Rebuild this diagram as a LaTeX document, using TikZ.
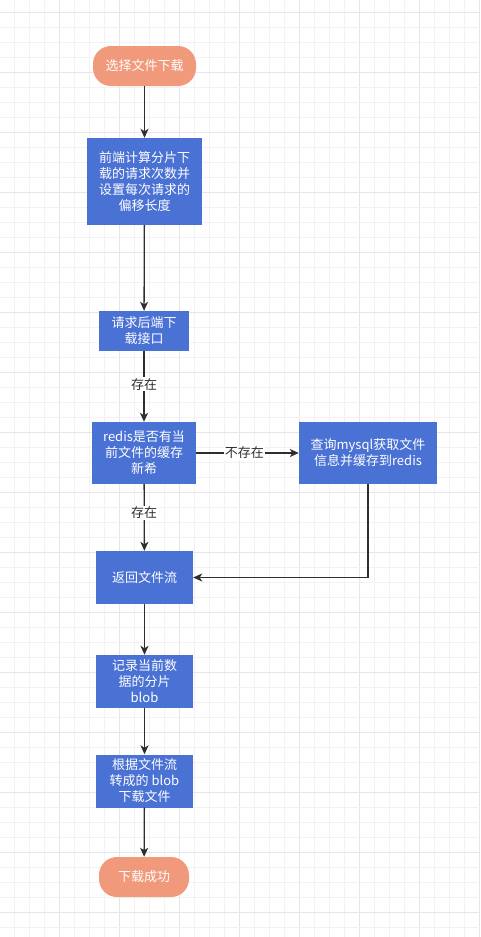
\documentclass[tikz,border=0pt]{standalone}
\usepackage{fontspec}
\setmainfont{Noto Sans CJK SC}
\usetikzlibrary{arrows.meta,shapes.misc}
\definecolor{boxblue}{HTML}{4A71D4}
\definecolor{salmon}{HTML}{F19A7B}
\definecolor{gridminor}{HTML}{F2F2F2}
\definecolor{gridmajor}{HTML}{E6E6E6}
\definecolor{linecol}{HTML}{2E2E2E}
\tikzset{
  x=1pt,y=-1pt,
  base/.style={text=white,font=\fontsize{13}{16}\selectfont,align=center,inner sep=0pt},
  procbox/.style={base,fill=boxblue,draw=none},
  termbox/.style={base,fill=salmon,draw=none,rounded corners=18pt},
  conn/.style={draw=linecol,line width=1.3pt,-{Stealth[length=9pt,width=8pt,inset=2.5pt]}},
  elabel/.style={fill=white,text=linecol,font=\fontsize{13}{14}\selectfont,inner sep=1pt}
}
\begin{document}
\begin{tikzpicture}
\useasboundingbox (0,0) rectangle (480,937);
\fill[white] (0,0) rectangle (480,937);
% grid
\foreach \i in {0,...,31}{
  \pgfmathsetmacro{\xx}{14+15*\i}
  \pgfmathtruncatemacro{\m}{mod(\i+1,4)}
  \ifnum\m=0 \draw[gridmajor,line width=1pt] (\xx,0) -- (\xx,937);
  \else \draw[gridminor,line width=1pt] (\xx,0) -- (\xx,937); \fi
}
\foreach \j in {0,...,61}{
  \pgfmathsetmacro{\yy}{12+15*\j}
  \pgfmathtruncatemacro{\m}{mod(\j+0,4)}
  \ifnum\m=0 \draw[gridmajor,line width=1pt] (0,\yy) -- (480,\yy);
  \else \draw[gridminor,line width=1pt] (0,\yy) -- (480,\yy); \fi
}
% nodes
\node[termbox,minimum width=103pt,minimum height=40pt] (start) at (144.5,66) {选择文件下载};
\node[procbox,minimum width=115pt,minimum height=87pt] (calc) at (144.5,181.5) {前端计算分片下\\载的请求次数并\\设置每次请求的\\偏移长度};
\node[procbox,minimum width=90pt,minimum height=40pt] (req) at (144,331) {请求后端下\\载接口};
\node[procbox,minimum width=104pt,minimum height=62pt] (redis) at (144,453) {redis是否有当\\前文件的缓存\\新希};
\node[procbox,minimum width=138pt,minimum height=62pt] (mysql) at (368,453) {查询mysql获取文件\\信息并缓存到redis};
\node[procbox,minimum width=97pt,minimum height=53pt] (ret) at (144.5,577.5) {返回文件流};
\node[procbox,minimum width=97pt,minimum height=53pt] (rec) at (144.5,681.5) {记录当前数\\据的分片\\blob};
\node[procbox,minimum width=97pt,minimum height=53pt] (dl) at (144.5,781) {根据文件流\\转成的 blob\\下载文件};
\node[termbox,minimum width=90pt,minimum height=40pt] (done) at (144,877) {下载成功};
% connectors
\draw[conn] (start) -- (calc);
\draw[conn] (calc) -- (req);
\draw[conn] (req) -- node[elabel,pos=0.47] (l1) {存在} (redis);
\draw[conn] (redis) -- node[elabel,pos=0.47] (l2) {不存在} (mysql);
\draw[conn] (redis) -- node[elabel,pos=0.43] (l3) {存在} (ret);
\draw[conn] (mysql.south) |- (ret.east);
\draw[conn] (ret) -- (rec);
\draw[conn] (rec) -- (dl);
\draw[conn] (dl) -- (done);
\end{tikzpicture}
\end{document}
